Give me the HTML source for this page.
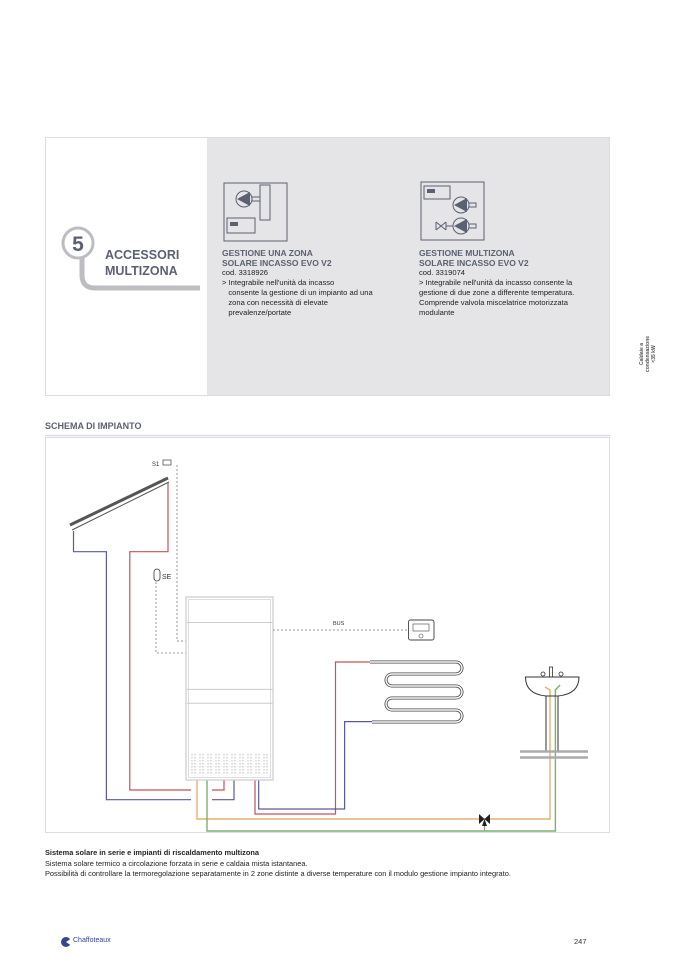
<!DOCTYPE html>
<html><head><meta charset="utf-8">
<style>
body{margin:0;width:677px;height:958px;background:#fff;position:relative;overflow:hidden;font-family:"Liberation Sans",sans-serif}
.a{position:absolute;white-space:nowrap}
.h{color:#5b6072;font-weight:bold;font-size:8.5px;line-height:10px}
.t{color:#222;font-size:7.6px;line-height:10px}
</style></head><body>
<svg class="a" style="left:0;top:0" width="677" height="958">
<rect x="45.5" y="137.5" width="564" height="258" fill="#fff" stroke="#dcdce4"/>
<rect x="207" y="138" width="402" height="257" fill="#e5e5e7"/>
<path d="M82 258 V275 Q82 288 95 288 H200" fill="none" stroke="#bdbdc1" stroke-width="5"/>
<circle cx="78" cy="243" r="15" fill="#fff" stroke="#bdbdc1" stroke-width="3"/>
<text x="78" y="251" font-size="21" font-weight="bold" fill="#5b6072" text-anchor="middle" font-family="Liberation Sans">5</text>
<rect x="224" y="183" width="63" height="58" fill="none" stroke="#5b6072"/>
<circle cx="244" cy="199" r="8" fill="none" stroke="#5b6072"/>
<path d="M237 199 L250 192 L250 206Z" fill="#5b6072"/>
<rect x="252" y="197" width="8" height="4" fill="none" stroke="#5b6072"/>
<rect x="260" y="185" width="10" height="35" fill="none" stroke="#5b6072"/>
<rect x="227" y="218" width="28" height="15" fill="none" stroke="#5b6072"/>
<rect x="230" y="222" width="8" height="4" fill="#5b6072"/>
<rect x="421" y="182" width="63" height="58" fill="none" stroke="#5b6072"/>
<rect x="424" y="186" width="26" height="13" fill="none" stroke="#5b6072"/>
<rect x="427" y="189" width="8" height="4" fill="#5b6072"/>
<circle cx="461" cy="205" r="8" fill="none" stroke="#5b6072"/>
<path d="M454 205 L467 198 L467 212Z" fill="#5b6072"/>
<rect x="469" y="203" width="7" height="4" fill="none" stroke="#5b6072"/>
<circle cx="461" cy="226" r="8" fill="none" stroke="#5b6072"/>
<path d="M454 226 L467 219 L467 233Z" fill="#5b6072"/>
<rect x="469" y="224" width="7" height="4" fill="none" stroke="#5b6072"/>
<path d="M436 222 L446 230 M436 230 L446 222 M436 222V230 M446 222V230 M446 226H453" stroke="#5b6072" fill="none"/>
<line x1="45" y1="435.5" x2="610" y2="435.5" stroke="#dcdce4" stroke-width="1.5"/>
<rect x="45.5" y="437.5" width="564" height="395" fill="none" stroke="#dcdce4"/>
<line x1="70" y1="525" x2="168" y2="478" stroke="#555" stroke-width="3"/>
<line x1="72" y1="530" x2="169" y2="482" stroke="#555" stroke-width="1"/>
<rect x="163" y="460" width="8" height="5" fill="none" stroke="#555" stroke-width=".8"/>
<text x="152" y="466" font-size="6" fill="#333">S1</text>
<g fill="none" stroke-width="1.2">
<path d="M73.5 531 V551.7 H106.4 V799.7 H191" stroke="#5a5a9a"/>
<path d="M168 483 V551.7 H129.8 V790 H191" stroke="#c8505a"/>
<path d="M224 780 V790 H212" stroke="#c8505a"/>
<path d="M234 780 V799.7 H212" stroke="#5a5a9a"/>
<path d="M255 780 V814 H335.5 V662 H370" stroke="#c8505a"/>
<path d="M258.7 780 V809 H344.6 V721.6 H372" stroke="#5a5a9a"/>
<path d="M197 780 V819 H550 V690 L545 687" stroke="#e6b070" stroke-width="1.4"/>
<path d="M207 780 V831 H555.4 V690 L560 685" stroke="#7ab070" stroke-width="1.4"/>
<path d="M484.5 819 V831" stroke="#7ab070"/>
</g>
<path d="M177 465 V641 H186 M156 582 V653 H186" fill="none" stroke="#999" stroke-dasharray="2,2"/>
<rect x="154" y="569" width="6" height="12" rx="3" fill="none" stroke="#333" stroke-width=".8"/>
<text x="162" y="579" font-size="7" fill="#333">SE</text>
<rect x="186" y="597" width="87" height="183" fill="none" stroke="#ccc" stroke-width="1.2"/>
<rect x="188.5" y="599.5" width="82" height="178" fill="none" stroke="#ddd"/>
<path d="M187 622.5H273 M187 689.4H273 M187 703.3H273" stroke="#ccc"/>
<g stroke="#bbb" stroke-dasharray="1.5,1.5">
<path d="M192 754V775 M195 754V775 M200 754V775 M203 754V775 M208 754V775 M211 754V775 M216 754V775 M219 754V775 M224 754V775 M227 754V775 M232 754V775 M235 754V775 M240 754V775 M243 754V775 M248 754V775 M251 754V775 M256 754V775 M259 754V775 M264 754V775 M267 754V775"/>
</g>
<path d="M273 630H408" stroke="#999" stroke-dasharray="2,2"/>
<text x="333" y="625" font-size="5.5" fill="#333">BUS</text>
<rect x="408.5" y="620" width="25.5" height="20" rx="2" fill="none" stroke="#444" stroke-width=".9"/>
<rect x="413" y="624" width="16" height="7" fill="none" stroke="#444" stroke-width=".6"/>
<circle cx="421" cy="636" r="2" fill="none" stroke="#444" stroke-width=".6"/>
<path d="M370 662 H456 a6 6 0 0 1 0 12 H392 a6 6 0 0 0 0 12 H456 a6 6 0 0 1 0 12 H392 a6 6 0 0 0 0 12 H456 a6 6 0 0 1 0 12 H372" fill="none" stroke="#444" stroke-width="3"/>
<path d="M370 662 H456 a6 6 0 0 1 0 12 H392 a6 6 0 0 0 0 12 H456 a6 6 0 0 1 0 12 H392 a6 6 0 0 0 0 12 H456 a6 6 0 0 1 0 12 H372" fill="none" stroke="#fff" stroke-width="1.4"/>
<path d="M479 814 L490 824 L490 814 L479 824Z" fill="#222"/>
<path d="M484.5 819 L482 826 H487Z" fill="#222"/>
<path d="M525.5 677 H579 Q579 694 558 696 H546 Q525.5 694 525.5 677Z" fill="none" stroke="#333"/>
<path d="M546 696 V751 M558 696 V751" stroke="#333"/>
<rect x="549.5" y="667" width="3" height="10" fill="none" stroke="#333" stroke-width=".8"/>
<circle cx="543" cy="674" r="2" fill="none" stroke="#333" stroke-width=".8"/>
<circle cx="561" cy="674" r="2" fill="none" stroke="#333" stroke-width=".8"/>
<path d="M520 751.5H588 M520 757.5H588" stroke="#aaa" stroke-width="2.5"/>
<circle cx="66" cy="942" r="5" fill="#3a4590"/>
<path d="M66 942 L72 938 L72 946Z" fill="#fff"/>
</svg>
<div class="a" style="left:105px;top:247px;color:#5b6072;font-weight:bold;font-size:12.5px;line-height:16px">ACCESSORI<br>MULTIZONA</div>
<div class="a h" style="left:222px;top:248px">GESTIONE UNA ZONA<br>SOLARE INCASSO EVO V2</div>
<div class="a t" style="left:222px;top:268px">cod. 3318926<br>&gt; Integrabile nell'unità da incasso<br>&nbsp;&nbsp; consente la gestione di un impianto ad una<br>&nbsp;&nbsp; zona con necessità di elevate<br>&nbsp;&nbsp; prevalenze/portate</div>
<div class="a h" style="left:419px;top:248px">GESTIONE MULTIZONA<br>SOLARE INCASSO EVO V2</div>
<div class="a t" style="left:419px;top:268px">cod. 3319074<br>&gt; Integrabile nell'unità da incasso consente la<br>gestione di due zone a differente temperatura.<br>Comprende valvola miscelatrice motorizzata<br>modulante</div>
<div class="a" style="left:45px;top:421px;color:#5b6072;font-weight:bold;font-size:9px">SCHEMA DI IMPIANTO</div>
<div class="a" style="left:45px;top:848px;font-size:7.4px;line-height:10.5px;color:#222"><b>Sistema solare in serie e impianti di riscaldamento multizona</b><br>Sistema solare termico a circolazione forzata in serie e caldaia mista istantanea.<br>Possibilità di controllare la termoregolazione separatamente in 2 zone distinte a diverse temperature con il modulo gestione impianto integrato.</div>
<div class="a" style="left:73px;top:937px;font-size:7px;color:#3a4590">Chaffoteaux</div>
<div class="a" style="left:574px;top:937px;font-size:7.5px;color:#333">247</div>
<div class="a" style="left:630px;top:345px;transform:rotate(-90deg);font-size:5px;line-height:6px;color:#555;font-weight:bold;text-align:center">Caldaie a<br>condensazione<br>&lt;35 kW</div>
</body></html>
